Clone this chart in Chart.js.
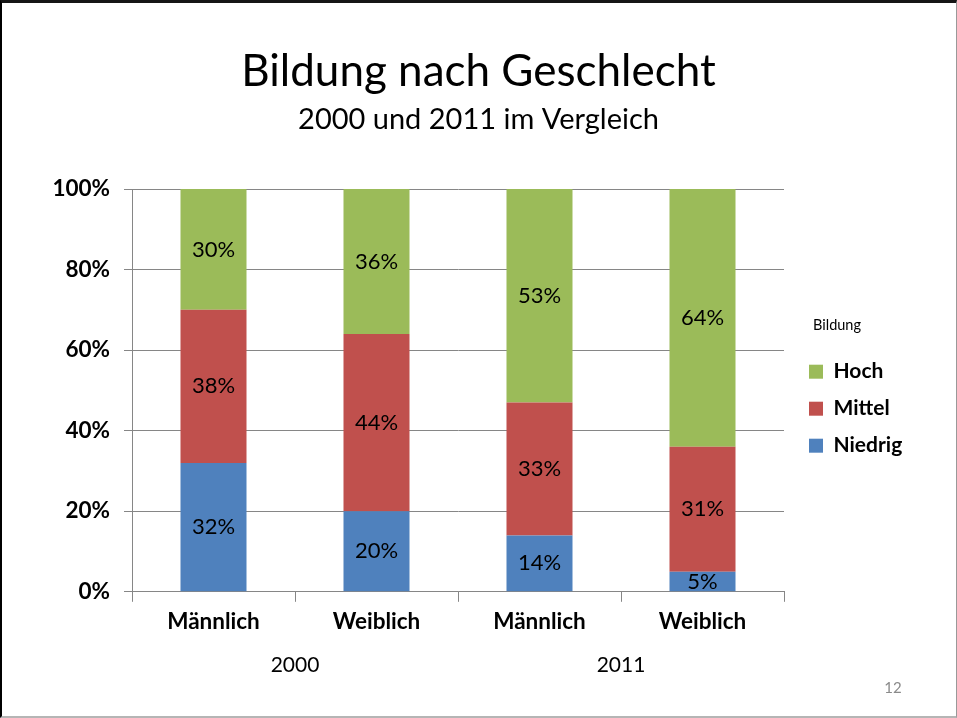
<!DOCTYPE html>
<html>
<head>
<meta charset="utf-8">
<script src="https://cdn.jsdelivr.net/npm/chart.js@4/dist/chart.umd.min.js"></script>
<style>
  html, body { margin: 0; padding: 0; background: #fff; }
  #wrap { position: absolute; left: 0; top: 0; width: 957px; height: 718px; }
  #c { position: absolute; left: 0; top: 0; }
  #frame { position: absolute; left: 0; top: 0; width: 957px; height: 718px; box-sizing: border-box;
           border-top: 3px solid #151515; border-left: 2px solid #000; border-right: 1px solid #999; border-bottom: 2px solid #b5b5b5; pointer-events: none; }
</style>
</head>
<body>
<div id="wrap">
  <canvas id="c" width="957" height="718"></canvas>
  <div id="frame"></div>
</div>
<script>
// ---- data ----
const categories = ['Männlich', 'Weiblich', 'Männlich', 'Weiblich'];
const years = ['2000', '2011'];
const niedrig = [32, 20, 14, 5];
const mittel  = [38, 44, 33, 31];
const hoch    = [30, 36, 53, 64];
const yTicks  = [0, 20, 40, 60, 80, 100];
const seriesNames = ['Niedrig', 'Mittel', 'Hoch'];
const titleText = 'Bildung nach Geschlecht';
const subtitleText = '2000 und 2011 im Vergleich';
const legendTitle = 'Bildung';
const pageNumber = '12';

const FONT = 'Lato, "Open Sans", sans-serif';
const GRID = '#868686';
const LEGEND_SPACE = 173;   // space reserved right of the plot
const LEGEND_LEFT = 793;
const LEGEND_WIDTH = 88;
const LEGEND_DY = 54;

const valueLabels = {
  id: 'valueLabels',
  afterDatasetsDraw(chart) {
    const ctx = chart.ctx;
    ctx.save();
    ctx.font = '22px ' + FONT;
    ctx.fillStyle = '#000';
    ctx.textAlign = 'center';
    ctx.textBaseline = 'middle';
    chart.data.datasets.forEach((ds, i) => {
      const meta = chart.getDatasetMeta(i);
      meta.data.forEach((bar, j) => {
        const v = ds.data[j];
        ctx.fillText(v + '%', bar.x, (bar.y + bar.base) / 2);
      });
    });
    ctx.restore();
  }
};

const legendPlace = {
  id: 'legendPlace',
  beforeLayout(chart) {
    const lg = chart.legend;
    if (lg && !lg._patchedFit) {
      const f = lg.fit.bind(lg);
      lg.fit = function () { f(); this.width = LEGEND_SPACE; };
      lg._patchedFit = true;
    }
  },
  afterLayout(chart) {
    const lg = chart.legend;
    if (lg) {
      lg.left = LEGEND_LEFT; lg.width = LEGEND_WIDTH; lg.right = chart.width - 2;
      lg.top += LEGEND_DY; lg.bottom += LEGEND_DY;
    }
  }
};

const pageNum = {
  id: 'pageNum',
  afterDraw(chart) {
    const ctx = chart.ctx;
    ctx.save();
    ctx.font = '15px ' + FONT;
    ctx.fillStyle = '#8a8a8a';
    ctx.textAlign = 'center';
    ctx.textBaseline = 'middle';
    ctx.fillText(pageNumber, 893, 688);
    ctx.restore();
  }
};

new Chart(document.getElementById('c'), {
  type: 'bar',
  data: {
    labels: categories,
    datasets: [
      { label: seriesNames[0], data: niedrig, backgroundColor: '#4F81BD' },
      { label: seriesNames[1], data: mittel,  backgroundColor: '#C0504D' },
      { label: seriesNames[2], data: hoch,    backgroundColor: '#9BBB59' }
    ]
  },
  options: {
    responsive: false,
    animation: false,
    layout: { padding: { left: 0, right: 0, top: 0, bottom: 36 } },
    datasets: { bar: { categoryPercentage: 1, barPercentage: 0.405 } },
    plugins: {
      title: { display: true, text: titleText, color: '#000',
               font: { family: FONT, size: 44, weight: 'normal' }, padding: { top: 45.6, bottom: 3.6 } },
      subtitle: { display: true, text: subtitleText, color: '#000',
               font: { family: FONT, size: 29, weight: 'normal' }, padding: { top: 0, bottom: 52.2 } },
      legend: {
        position: 'right', reverse: true,
        title: { display: true, text: legendTitle, color: '#000', position: 'center',
                 font: { family: FONT, size: 14.5 }, padding: { top: 0, bottom: 10 } },
        labels: { boxWidth: 14, boxHeight: 14, color: '#000', padding: 16,
                  font: { family: FONT, size: 21, weight: 'bold' } }
      },
      tooltip: { enabled: false }
    },
    scales: {
      x: {
        stacked: true,
        grid: { offset: true, drawOnChartArea: false, color: GRID, tickLength: 10 },
        border: { color: GRID },
        ticks: { color: '#000', padding: 6, font: { family: FONT, size: 22.5, weight: 'bold' } }
      },
      x2: {
        type: 'category', labels: years, position: 'bottom',
        grid: { display: false }, border: { display: false },
        ticks: { color: '#000', padding: 4, font: { family: FONT, size: 21 } }
      },
      y: {
        stacked: true, min: 0, max: 100,
        afterFit(scale) { scale.width = 132; },
        afterBuildTicks(scale) { scale.ticks = yTicks.map(v => ({ value: v })); },
        grid: { color: GRID, tickLength: 8 },
        border: { color: GRID },
        ticks: { color: '#000', padding: 14, font: { family: FONT, size: 22.5, weight: 'bold' },
                 callback: v => v + '%' }
      }
    }
  },
  plugins: [valueLabels, legendPlace, pageNum]
});
</script>
</body>
</html>
